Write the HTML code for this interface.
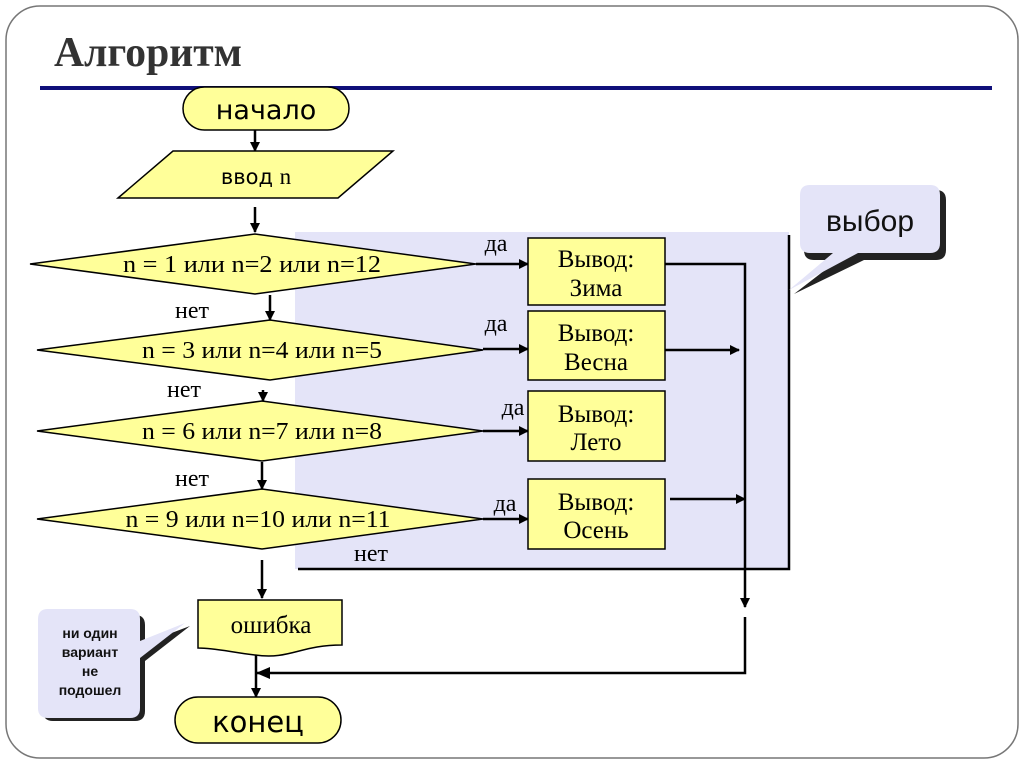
<!DOCTYPE html>
<html><head><meta charset="utf-8"><style>
html,body{margin:0;padding:0;background:#fff;}
svg{display:block;}
.s{font-family:"Liberation Serif",serif;}
.a{font-family:"DejaVu Sans","Liberation Sans",sans-serif;}
.l{font-family:"Liberation Sans",sans-serif;}
</style></head><body>
<svg width="1024" height="767" viewBox="0 0 1024 767" xmlns="http://www.w3.org/2000/svg">
<defs>
<marker id="ar" markerWidth="10" markerHeight="10" refX="9" refY="5" orient="auto" markerUnits="userSpaceOnUse">
<path d="M0,0 L10,5 L0,10 Z" fill="#000"/></marker>
<marker id="ar2" markerWidth="14" markerHeight="12" refX="13" refY="6" orient="auto" markerUnits="userSpaceOnUse">
<path d="M0,0 L14,6 L0,12 Z" fill="#000"/></marker>
</defs>
<rect x="6" y="6" width="1012" height="752" rx="34" fill="#fff" stroke="#777" stroke-width="1.5"/>
<text x="54" y="66" class="s" font-size="42" font-weight="bold" fill="#333" textLength="188" lengthAdjust="spacingAndGlyphs">Алгоритм</text>
<rect x="40" y="86" width="952" height="4" fill="#10107a"/>

<rect x="295" y="232" width="494" height="337" fill="#e4e4f8"/>
<path d="M298,569 L789,569 L789,235" fill="none" stroke="#000" stroke-width="2.5"/>

<path d="M812,188 h122 q10,0 10,10 v50 q0,10 -10,10 h-72 l-70,34 l44,-34 h-24 q-10,0 -10,-10 v-50 q0,-10 10,-10 z" fill="#222" transform="translate(2,2)"/>
<path d="M810,185 h120 q10,0 10,10 v48 q0,10 -10,10 h-72 l-69,37 l44,-37 h-23 q-10,0 -10,-10 v-48 q0,-10 10,-10 z" fill="#e4e4f8"/>
<text x="870" y="231" class="l" font-size="30" text-anchor="middle" fill="#111">выбор</text>

<path d="M50,612 h82 q10,0 10,10 v18 l45,-17 l-45,35 v50 q0,10 -10,10 h-82 q-10,0 -10,-10 v-86 q0,-10 10,-10 z" fill="#222" transform="translate(3,3)"/>
<path d="M48,609 h82 q10,0 10,10 v22 l45,-18 l-45,35 v50 q0,10 -10,10 h-82 q-10,0 -10,-10 v-89 q0,-10 10,-10 z" fill="#e4e4f8"/>
<g class="l" font-size="14" font-weight="bold" text-anchor="middle" fill="#111">
<text x="90" y="638">ни один</text><text x="90" y="657">вариант</text><text x="90" y="676">не</text><text x="90" y="695">подошел</text></g>

<rect x="183" y="87" width="166" height="43" rx="21.5" fill="#ffff99" stroke="#000" stroke-width="1.5"/>
<text x="266" y="119" class="a" font-size="27" text-anchor="middle">начало</text>
<line x1="255" y1="130" x2="255" y2="151" stroke="#000" stroke-width="2.5" marker-end="url(#ar)"/>
<polygon points="118,198 173,151 393,151 338,198" fill="#ffff99" stroke="#000" stroke-width="1.5"/>
<text x="256" y="184" class="a" font-size="21" text-anchor="middle">ввод <tspan class="s" font-size="23">n</tspan></text>
<line x1="255" y1="207" x2="255" y2="232" stroke="#000" stroke-width="2.5" marker-end="url(#ar)"/>

<g fill="#ffff99" stroke="#000" stroke-width="1.5">
<polygon points="30,264 255,234 476,264 255,294"/>
<polygon points="37,350 270,320 483,350 270,380"/>
<polygon points="37,431 262,401 483,431 262,461"/>
<polygon points="37,519 262,489 483,519 262,549"/>
</g>
<g class="s" font-size="24" text-anchor="middle" lengthAdjust="spacingAndGlyphs">
<text x="252" y="272" textLength="258" lengthAdjust="spacingAndGlyphs">n = 1 или n=2 или n=12</text>
<text x="262" y="358" textLength="240" lengthAdjust="spacingAndGlyphs">n = 3 или n=4 или n=5</text>
<text x="262" y="439" textLength="240" lengthAdjust="spacingAndGlyphs">n = 6 или n=7 или n=8</text>
<text x="258" y="527" textLength="265" lengthAdjust="spacingAndGlyphs">n = 9 или n=10 или n=11</text>
<text x="192" y="318">нет</text>
<text x="184" y="397">нет</text>
<text x="192" y="486">нет</text>
<text x="371" y="561">нет</text>
<text x="496" y="251">да</text>
<text x="496" y="331">да</text>
<text x="513" y="415">да</text>
<text x="505" y="511">да</text>
</g>
<g stroke="#000" stroke-width="2.5" fill="none">
<line x1="270" y1="295" x2="270" y2="320" marker-end="url(#ar)"/>
<line x1="263" y1="390" x2="263" y2="401" marker-end="url(#ar)"/>
<line x1="262" y1="462" x2="262" y2="489" marker-end="url(#ar)"/>
<line x1="262" y1="560" x2="262" y2="598" marker-end="url(#ar)"/>
<line x1="476" y1="264" x2="528" y2="264" marker-end="url(#ar)"/>
<line x1="483" y1="349" x2="528" y2="349" marker-end="url(#ar)"/>
<line x1="483" y1="431" x2="528" y2="431" marker-end="url(#ar)"/>
<line x1="483" y1="519" x2="528" y2="519" marker-end="url(#ar)"/>
<polyline points="665,264 745,264 745,607" marker-end="url(#ar)"/>
<line x1="665" y1="350" x2="739" y2="350" marker-end="url(#ar)"/>
<line x1="670" y1="499" x2="745" y2="499" marker-end="url(#ar)"/>
<polyline points="745,617 745,673 257,673" marker-end="url(#ar2)"/>
<line x1="256" y1="655" x2="256" y2="697" marker-end="url(#ar)"/>
</g>
<g fill="#ffff99" stroke="#000" stroke-width="1.5">
<rect x="528" y="238" width="137" height="67"/>
<rect x="528" y="311" width="137" height="69"/>
<rect x="528" y="391" width="137" height="70"/>
<rect x="528" y="479" width="137" height="70"/>
</g>
<g class="s" font-size="25" text-anchor="middle">
<text x="596" y="267">Вывод:</text><text x="596" y="296">Зима</text>
<text x="596" y="341">Вывод:</text><text x="596" y="370">Весна</text>
<text x="596" y="422">Вывод:</text><text x="596" y="450">Лето</text>
<text x="596" y="510">Вывод:</text><text x="596" y="538">Осень</text>
</g>

<path d="M198,600 H342 V645 C300,645 290,660 255,655 C230,652 215,648 198,648 Z" fill="#ffff99" stroke="#000" stroke-width="1.5"/>
<text x="271" y="633" class="s" font-size="25" text-anchor="middle">ошибка</text>

<rect x="175" y="697" width="166" height="46" rx="23" fill="#ffff99" stroke="#000" stroke-width="1.5"/>
<text x="258" y="732" class="a" font-size="29" text-anchor="middle">конец</text>
</svg>
</body></html>
